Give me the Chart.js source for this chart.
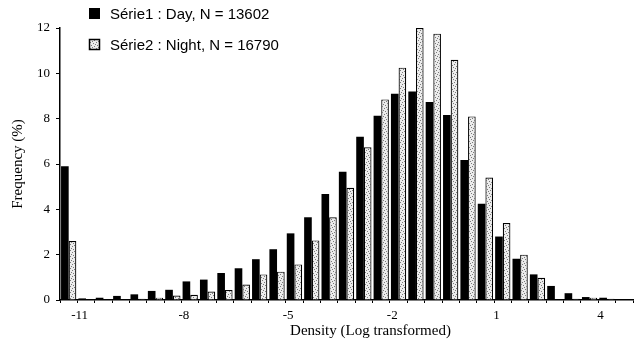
<!DOCTYPE html>
<html><head><meta charset="utf-8">
<script src="https://cdn.jsdelivr.net/npm/chart.js@4.4.0/dist/chart.umd.min.js"></script>
<style>html,body{margin:0;padding:0;background:#fff}</style>
</head><body>
<canvas id="c" width="637" height="350"></canvas>
<script>
const categories = [-11,-10.5,-10,-9.5,-9,-8.5,-8,-7.5,-7,-6.5,-6,-5.5,-5,-4.5,-4,-3.5,-3,-2.5,-2,-1.5,-1,-0.5,0,0.5,1,1.5,2,2.5,3,3.5,4,4.5,5];
const tickLabels = ['-11','-8','-5','-2','1','4'];
const dayValues = [5.9,0.07,0.1,0.18,0.25,0.4,0.45,0.82,0.9,1.19,1.4,1.8,2.24,2.94,3.65,4.68,5.66,7.2,8.13,9.1,9.2,8.73,8.16,6.18,4.25,2.8,1.82,1.13,0.62,0.3,0.13,0.1,0.03];
const nightValues = [2.6,0.03,0.03,0.03,0.05,0.1,0.2,0.23,0.37,0.44,0.68,1.13,1.25,1.57,2.63,3.65,4.95,6.74,8.85,10.25,12.0,11.75,10.6,8.1,5.4,3.4,2.0,0.98,0.03,0.05,0.1,0.05,0.03];
const seriesNames = ['Série1 : Day, N = 13602','Série2 : Night, N = 16790'];
const xTitle = 'Density (Log transformed)';
const yTitle = 'Frequency (%)';

function makePattern(){
  const p = document.createElement('canvas'); p.width = 6; p.height = 6;
  const g = p.getContext('2d');
  g.fillStyle = '#ececec'; g.fillRect(0,0,6,6);
  g.fillStyle = '#7a7a7a';
  [[0,0],[3,1],[1,3],[4,4],[2,5],[5,2]].forEach(([x,y])=>g.fillRect(x,y,1,1));
  return document.getElementById('c').getContext('2d').createPattern(p,'repeat');
}
const pat = makePattern();

const legendPlugin = {
  id:'customLegend',
  afterDraw(chart){
    const ctx = chart.ctx;
    const ca = chart.chartArea;
    ctx.save();
    ctx.font = "15px 'Liberation Sans', Arial, sans-serif";
    ctx.textBaseline = 'middle';
    ctx.textAlign = 'left';
    ctx.fillStyle = '#000';
    ctx.fillRect(89,8,11,11);
    ctx.fillText(seriesNames[0],110,14.5);
    ctx.fillStyle = pat; ctx.fillRect(89,39,11,11);
    ctx.strokeStyle='#000'; ctx.lineWidth=1.5; ctx.strokeRect(89.5,39.5,10,10);
    ctx.fillStyle = '#000';
    ctx.fillText(seriesNames[1],110,45.5);
    // x axis title
    ctx.font = "15px 'Liberation Serif','Times New Roman',serif";
    ctx.textAlign = 'center';
    ctx.fillText(xTitle,(ca.left+ca.right)/2+24,331);
    ctx.restore();
  }
};

new Chart(document.getElementById('c'), {
  type:'bar',
  data:{
    labels: categories.map(String),
    datasets:[
      {label:seriesNames[0], data:dayValues, backgroundColor:'#000', borderColor:'#000', borderWidth:0, barPercentage:1.0, categoryPercentage:0.88},
      {label:seriesNames[1], data:nightValues, backgroundColor:pat, borderColor:'#000', borderWidth:1.2, barPercentage:1.0, categoryPercentage:0.88}
    ]
  },
  options:{
    responsive:false, animation:false, devicePixelRatio:1,
    layout:{padding:{top:28,right:4,left:0,bottom:0}},
    plugins:{legend:{display:false}, tooltip:{enabled:false}},
    scales:{
      x:{
        grid:{display:true, drawOnChartArea:false, color:'#000', tickLength:3, offset:true},
        border:{color:'#000', width:1.5},
        ticks:{autoSkip:false, maxRotation:0, color:'#000', padding:5, labelOffset:11,
          font:{family:"'Liberation Serif','Times New Roman',serif", size:13},
          callback:(v,i)=> tickLabels.includes(String(categories[i])) ? String(categories[i]) : ''},
        title:{display:false},
        afterFit:(s)=>{s.height=50;}
      },
      y:{
        min:0, max:12,
        grid:{display:true, drawOnChartArea:false, color:'#000', tickLength:4},
        border:{color:'#000', width:1.5},
        ticks:{stepSize:2, color:'#000', padding:6,
          font:{family:"'Liberation Serif','Times New Roman',serif", size:13}},
        title:{display:true, text:yTitle, color:'#000',
          font:{family:"'Liberation Serif','Times New Roman',serif", size:15}, padding:{top:9,bottom:2}},
        afterFit:(s)=>{s.width=60;}
      }
    }
  },
  plugins:[legendPlugin]
});
</script>
</body></html>
